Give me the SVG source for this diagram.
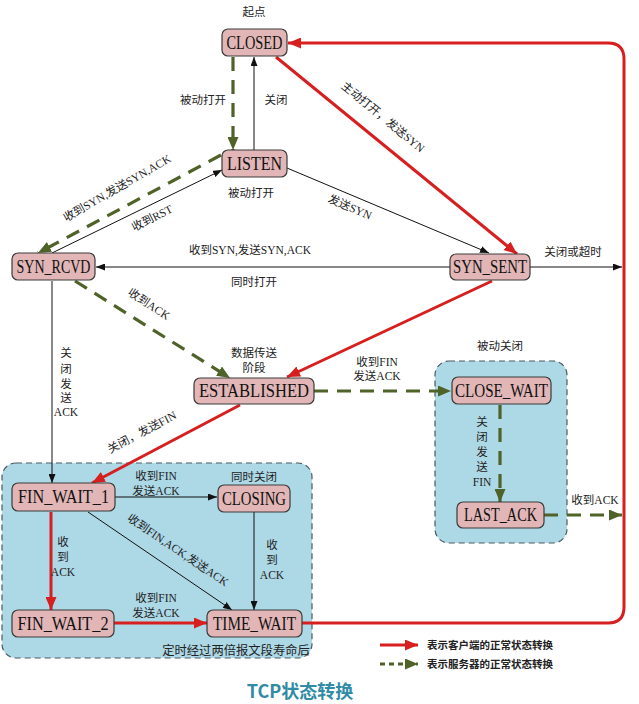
<svg xmlns="http://www.w3.org/2000/svg" width="639" height="704" viewBox="0 0 639 704">
<style>
.node rect{fill:#e2b6b6;stroke:#3a3a3a;stroke-width:1.2}
.node text{font-family:"Liberation Serif",serif;font-size:18px;fill:#111;text-anchor:middle;dominant-baseline:central}
.lbl{font-family:"Liberation Serif","Noto Sans CJK SC",serif;font-size:11.5px;fill:#222;text-anchor:middle;dominant-baseline:central}
.leg{font-family:"Liberation Serif","Noto Sans CJK SC",serif;font-size:10.5px;font-weight:bold;fill:#222;dominant-baseline:central}
.blk{stroke:#111;stroke-width:1;fill:none}
.red{stroke:#d71f1f;stroke-width:3;fill:none}
.grn{stroke:#4f6228;stroke-width:3.2;fill:none;stroke-dasharray:14 9}
.grp{fill:#add8e6;stroke:#4a5a60;stroke-width:1.2;stroke-dasharray:6 4}
</style>
<defs>
<marker id="aB" markerUnits="userSpaceOnUse" markerWidth="9" markerHeight="7" refX="9" refY="3.5" orient="auto"><path d="M0,0 L9,3.5 L0,7 z" fill="#111"/></marker>
<marker id="aR" markerUnits="userSpaceOnUse" markerWidth="13" markerHeight="11" refX="13" refY="5.5" orient="auto"><path d="M0,0 L13,5.5 L0,11 z" fill="#d71f1f"/></marker>
<marker id="aG" markerUnits="userSpaceOnUse" markerWidth="13" markerHeight="11" refX="13" refY="5.5" orient="auto"><path d="M0,0 L13,5.5 L0,11 z" fill="#4f6228"/></marker>
</defs>
<rect width="639" height="704" fill="#fff"/>
<g id="groups">
<rect class="grp" x="2" y="463" width="310" height="195" rx="14"/>
<rect class="grp" x="435" y="361" width="132" height="182" rx="14"/>
</g>
<g id="connectors">
<path class="grn" d="M233,57 L233,150" marker-end="url(#aG)"/>
<path class="blk" d="M254,150 L254,57" marker-end="url(#aB)"/>
<path class="red" d="M276,57 L517,254" marker-end="url(#aR)"/>
<path class="blk" d="M287,168 L489,253" marker-end="url(#aB)"/>
<path class="grn" d="M221,155 L38,253" marker-end="url(#aG)"/>
<path class="blk" d="M52,253 L222,170" marker-end="url(#aB)"/>
<path class="blk" d="M450,267 L96,267" marker-end="url(#aB)"/>
<path class="blk" d="M530,267 L622,267" marker-end="url(#aB)"/>
<path class="grn" d="M75,281 L230,378" marker-end="url(#aG)"/>
<path class="red" d="M492,281 L287,377" marker-end="url(#aR)"/>
<path class="grn" d="M314,391 L451,391" marker-end="url(#aG)"/>
<path class="blk" d="M52,281 L52,483" marker-end="url(#aB)"/>
<path class="red" d="M240,405 L92,483" marker-end="url(#aR)"/>
<path class="grn" d="M500,405 L500,502" marker-end="url(#aG)"/>
<path class="grn" d="M544,515 L622,515" marker-end="url(#aG)"/>
<path class="blk" d="M115,497 L217,497" marker-end="url(#aB)"/>
<path class="blk" d="M88,512 L232,610" marker-end="url(#aB)"/>
<path class="blk" d="M254,512 L254,610" marker-end="url(#aB)"/>
<path class="red" d="M51,512 L51,610" marker-end="url(#aR)"/>
<path class="red" d="M114,623 L207,623" marker-end="url(#aR)"/>
<path class="red" d="M302,623 L608,623 Q624,623 624,607 L624,59 Q624,43 608,43 L288,43" marker-end="url(#aR)"/>
</g>
<g id="labels">
<text class="lbl" x="254" y="12">起点</text>
<text class="lbl" x="203" y="100">被动打开</text>
<text class="lbl" x="276" y="100">关闭</text>
<text class="lbl" transform="translate(383,117) rotate(39.5)">主动打开，发送SYN</text>
<text class="lbl" x="251" y="193">被动打开</text>
<text class="lbl" transform="translate(350,207) rotate(23)">发送SYN</text>
<text class="lbl" transform="translate(117,188) rotate(-30)">收到SYN,发送SYN,ACK</text>
<text class="lbl" transform="translate(152,218) rotate(-27)">收到RST</text>
<text class="lbl" x="250" y="250">收到SYN,发送SYN,ACK</text>
<text class="lbl" x="254" y="282">同时打开</text>
<text class="lbl" x="573" y="252">关闭或超时</text>
<text class="lbl" transform="translate(149,304) rotate(33)">收到ACK</text>
<text class="lbl" x="254" y="353">数据传送</text>
<text class="lbl" x="254" y="368">阶段</text>
<text class="lbl" x="377" y="362">收到FIN</text>
<text class="lbl" x="377" y="376">发送ACK</text>
<text class="lbl" x="500" y="346">被动关闭</text>
<text class="lbl" x="66" y="353">关</text>
<text class="lbl" x="66" y="369">闭</text>
<text class="lbl" x="66" y="384">发</text>
<text class="lbl" x="66" y="398">送</text>
<text class="lbl" x="66" y="412">ACK</text>
<text class="lbl" transform="translate(142,432) rotate(-28)">关闭，发送FIN</text>
<text class="lbl" x="482" y="422">关</text>
<text class="lbl" x="482" y="437">闭</text>
<text class="lbl" x="482" y="452">发</text>
<text class="lbl" x="482" y="467">送</text>
<text class="lbl" x="482" y="482">FIN</text>
<text class="lbl" x="595" y="500">收到ACK</text>
<text class="lbl" x="156" y="476">收到FIN</text>
<text class="lbl" x="156" y="491">发送ACK</text>
<text class="lbl" x="254" y="477">同时关闭</text>
<text class="lbl" transform="translate(178,550) rotate(34)">收到FIN,ACK,发送ACK</text>
<text class="lbl" x="63" y="542">收</text>
<text class="lbl" x="63" y="557">到</text>
<text class="lbl" x="63" y="572">ACK</text>
<text class="lbl" x="272" y="545">收</text>
<text class="lbl" x="272" y="560">到</text>
<text class="lbl" x="272" y="575">ACK</text>
<text class="lbl" x="156" y="598">收到FIN</text>
<text class="lbl" x="156" y="613">发送ACK</text>
<text class="lbl" x="236" y="651" style="font-size:12.3px">定时经过两倍报文段寿命后</text>
</g>
<g id="CLOSED" class="node"><rect x="222" y="29" width="65" height="27" rx="6"/><text x="254.5" y="43" textLength="56" lengthAdjust="spacingAndGlyphs">CLOSED</text></g>
<g id="LISTEN" class="node"><rect x="222" y="150" width="65" height="27" rx="6"/><text x="254.5" y="164" textLength="55" lengthAdjust="spacingAndGlyphs">LISTEN</text></g>
<g id="SYN_RCVD" class="node"><rect x="12" y="253" width="83" height="27" rx="6"/><text x="53.5" y="267" textLength="74" lengthAdjust="spacingAndGlyphs">SYN_RCVD</text></g>
<g id="SYN_SENT" class="node"><rect x="450" y="254" width="80" height="26" rx="6"/><text x="490" y="267" textLength="74" lengthAdjust="spacingAndGlyphs">SYN_SENT</text></g>
<g id="ESTABLISHED" class="node"><rect x="194" y="378" width="120" height="26" rx="6"/><text x="254" y="391" textLength="110" lengthAdjust="spacingAndGlyphs">ESTABLISHED</text></g>
<g id="CLOSE_WAIT" class="node"><rect x="452" y="377" width="99" height="27" rx="6"/><text x="501.5" y="391" textLength="93" lengthAdjust="spacingAndGlyphs">CLOSE_WAIT</text></g>
<g id="LAST_ACK" class="node"><rect x="457" y="502" width="87" height="26" rx="6"/><text x="500.5" y="515" textLength="73" lengthAdjust="spacingAndGlyphs">LAST_ACK</text></g>
<g id="FIN_WAIT_1" class="node"><rect x="12" y="483" width="103" height="28" rx="6"/><text x="63.5" y="497" textLength="91" lengthAdjust="spacingAndGlyphs">FIN_WAIT_1</text></g>
<g id="CLOSING" class="node"><rect x="218" y="485" width="72" height="27" rx="6"/><text x="254" y="498.5" textLength="64" lengthAdjust="spacingAndGlyphs">CLOSING</text></g>
<g id="FIN_WAIT_2" class="node"><rect x="12" y="610" width="102" height="27" rx="6"/><text x="63" y="623.5" textLength="91" lengthAdjust="spacingAndGlyphs">FIN_WAIT_2</text></g>
<g id="TIME_WAIT" class="node"><rect x="207" y="610" width="95" height="27" rx="6"/><text x="254.5" y="623.5" textLength="83" lengthAdjust="spacingAndGlyphs">TIME_WAIT</text></g>
<g id="legend">
<path class="red" d="M380,645 L418,645" marker-end="url(#aR)"/>
<text class="leg" x="427" y="645">表示客户端的正常状态转换</text>
<path class="grn" d="M380,664 L418,664" style="stroke-dasharray:5 4" marker-end="url(#aG)"/>
<text class="leg" x="427" y="664">表示服务器的正常状态转换</text>
</g>
<text x="300" y="690" font-family="Noto Sans CJK SC,sans-serif" font-size="18" font-weight="bold" fill="#2f8ba6" text-anchor="middle" dominant-baseline="central">TCP状态转换</text>
</svg>
